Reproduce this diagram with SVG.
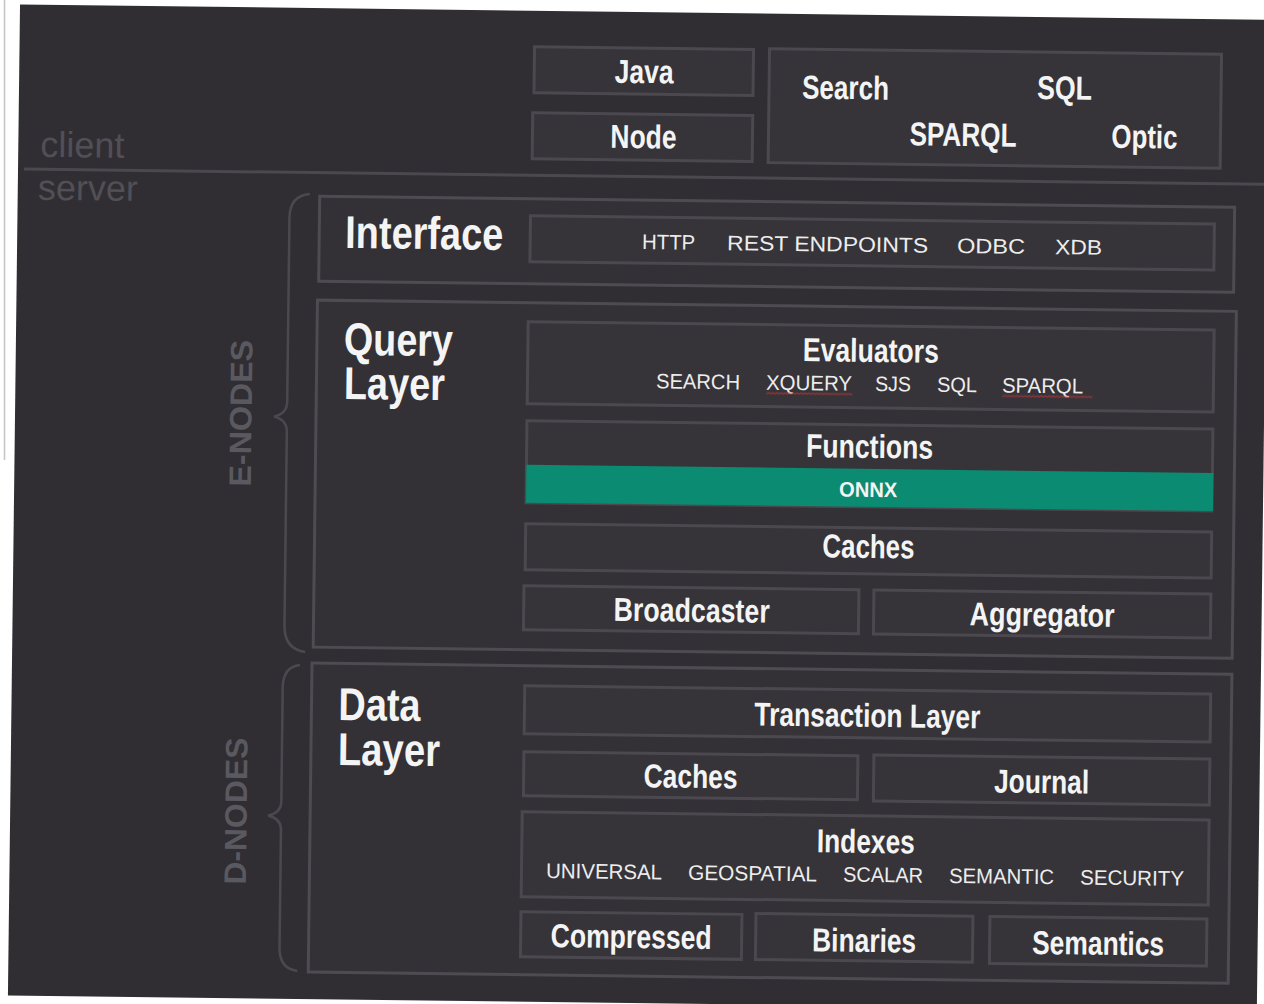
<svg xmlns="http://www.w3.org/2000/svg" width="1264" height="1004" viewBox="0 0 1264 1004">
  <defs>
    <style>
      .bg{fill:#302e33}
      .frame{fill:#333136;stroke:#4e4c52;stroke-width:3}
      .box{fill:#363439;stroke:#4b494f;stroke-width:3}
      .hd{font-family:"Liberation Sans",Arial,sans-serif;font-weight:700;font-size:46px;fill:#f4f4f4}
      .lb{font-family:"Liberation Sans",Arial,sans-serif;font-weight:700;font-size:33px;fill:#f4f4f4;text-anchor:middle}
      .st{text-anchor:start}
      .sm{font-family:"Liberation Sans",Arial,sans-serif;font-size:21px;fill:#ededed}
      .onnx{font-family:"Liberation Sans",Arial,sans-serif;font-weight:700;font-size:21px;fill:#f4f4f4;text-anchor:middle}
      .side{font-family:"Liberation Sans",Arial,sans-serif;font-size:36px;fill:#524f56}
      .tier{font-family:"Liberation Sans",Arial,sans-serif;font-weight:700;font-size:31px;fill:#5b5960;text-anchor:middle}
      .brace{fill:none;stroke:#4b494f;stroke-width:2.5}
      .rule{stroke:#4b494f;stroke-width:3}
    </style>
    <!-- red wavy spell-check underline -->
    <pattern id="squiggle" width="4" height="3" patternUnits="userSpaceOnUse">
      <path d="M0 0.6 L2 2.4 L4 0.6" fill="none" stroke="#d2343a" stroke-width="0.9"/>
    </pattern>
  </defs>

  <!-- paper -->
  <rect width="1264" height="1004" fill="#ffffff"/>
  <line x1="4.5" y1="0" x2="4.5" y2="460" stroke="#c4c4c4" stroke-width="1.5"/>

  <g transform="rotate(0.7 632 502)">
    <rect class="bg" x="14" y="12" width="1249" height="991"/>

    <!-- client / server split -->
    <g id="tiers">
      <line class="rule" x1="20" y1="176.5" x2="1280" y2="176.5"/>
      <text class="side" x="36" y="164">client</text>
      <text class="side" x="34" y="207">server</text>
    </g>

    <!-- client libraries -->
    <g id="client-java">
      <rect class="box" x="529" y="48" width="219" height="46"/>
      <text class="lb" x="639" y="83" textLength="59" lengthAdjust="spacingAndGlyphs">Java</text>
    </g>
    <g id="client-node">
      <rect class="box" x="528" y="114" width="220" height="46"/>
      <text class="lb" x="639" y="148" textLength="66" lengthAdjust="spacingAndGlyphs">Node</text>
    </g>
    <g id="client-apis">
      <rect class="box" x="764" y="47" width="452" height="114"/>
      <text class="lb st" x="797" y="96.5" textLength="87" lengthAdjust="spacingAndGlyphs">Search</text>
      <text class="lb st" x="1032" y="94" textLength="55" lengthAdjust="spacingAndGlyphs">SQL</text>
      <text class="lb st" x="905" y="142" textLength="107" lengthAdjust="spacingAndGlyphs">SPARQL</text>
      <text class="lb st" x="1107" y="142" textLength="66" lengthAdjust="spacingAndGlyphs">Optic</text>
    </g>

    <!-- Interface -->
    <g id="interface">
      <rect class="frame" x="316" y="200" width="915" height="85"/>
      <text class="hd" x="342" y="251.5" textLength="158" lengthAdjust="spacingAndGlyphs">Interface</text>
      <rect class="box" x="527" y="217" width="684" height="46"/>
      <text class="sm" x="639" y="249" textLength="53" lengthAdjust="spacingAndGlyphs">HTTP</text>
      <text class="sm" x="724" y="249" textLength="201" lengthAdjust="spacingAndGlyphs">REST ENDPOINTS</text>
      <text class="sm" x="954" y="249" textLength="68" lengthAdjust="spacingAndGlyphs">ODBC</text>
      <text class="sm" x="1052" y="249" textLength="47" lengthAdjust="spacingAndGlyphs">XDB</text>
    </g>

    <!-- Query layer -->
    <g id="query-layer">
      <rect class="frame" x="315" y="304" width="919" height="347"/>
      <text class="hd" x="342" y="358.5" textLength="109" lengthAdjust="spacingAndGlyphs">Query</text>
      <text class="hd" x="342.5" y="402.5" textLength="101" lengthAdjust="spacingAndGlyphs">Layer</text>
    </g>
    <g id="evaluators">
      <rect class="box" x="526" y="323" width="686" height="82"/>
      <text class="lb" x="869" y="359" textLength="136" lengthAdjust="spacingAndGlyphs">Evaluators</text>
      <text class="sm" x="654.6" y="388" textLength="84" lengthAdjust="spacingAndGlyphs">SEARCH</text>
      <text class="sm" x="764.6" y="388" textLength="86" lengthAdjust="spacingAndGlyphs">XQUERY</text>
      <text class="sm" x="873.6" y="388" textLength="36" lengthAdjust="spacingAndGlyphs">SJS</text>
      <text class="sm" x="935.6" y="388" textLength="40" lengthAdjust="spacingAndGlyphs">SQL</text>
      <text class="sm" x="1000.6" y="388" textLength="81" lengthAdjust="spacingAndGlyphs">SPARQL</text>
      <rect x="765" y="390" width="86" height="3" fill="url(#squiggle)"/>
      <rect x="1001" y="390" width="90" height="3" fill="url(#squiggle)"/>
    </g>
    <g id="functions">
      <rect class="box" x="526" y="422" width="686" height="82"/>
      <text class="lb" x="869" y="455" textLength="127" lengthAdjust="spacingAndGlyphs">Functions</text>
      <rect x="526" y="466" width="687" height="38" fill="#0b8b71"/>
      <text class="onnx" x="868" y="494" textLength="58" lengthAdjust="spacingAndGlyphs">ONNX</text>
    </g>
    <g id="query-caches">
      <rect class="box" x="526" y="525" width="686" height="46"/>
      <text class="lb" x="869" y="555" textLength="92" lengthAdjust="spacingAndGlyphs">Caches</text>
    </g>
    <g id="broadcaster">
      <rect class="box" x="525" y="587" width="335" height="44"/>
      <text class="lb" x="693" y="621" textLength="156" lengthAdjust="spacingAndGlyphs">Broadcaster</text>
    </g>
    <g id="aggregator">
      <rect class="box" x="875" y="587" width="337" height="44"/>
      <text class="lb" x="1043.5" y="621" textLength="145" lengthAdjust="spacingAndGlyphs">Aggregator</text>
    </g>

    <!-- Data layer -->
    <g id="data-layer">
      <rect class="frame" x="314" y="667" width="920" height="309"/>
      <text class="hd" x="341" y="723.5" textLength="82" lengthAdjust="spacingAndGlyphs">Data</text>
      <text class="hd" x="341" y="768.5" textLength="102" lengthAdjust="spacingAndGlyphs">Layer</text>
    </g>
    <g id="transaction-layer">
      <rect class="box" x="527" y="687" width="686" height="48"/>
      <text class="lb" x="870" y="724" textLength="226" lengthAdjust="spacingAndGlyphs">Transaction Layer</text>
    </g>
    <g id="data-caches">
      <rect class="box" x="527" y="753" width="334" height="44"/>
      <text class="lb" x="694" y="787" textLength="94" lengthAdjust="spacingAndGlyphs">Caches</text>
    </g>
    <g id="journal">
      <rect class="box" x="877" y="752" width="336" height="46"/>
      <text class="lb" x="1045" y="788" textLength="95" lengthAdjust="spacingAndGlyphs">Journal</text>
    </g>
    <g id="indexes">
      <rect class="box" x="526" y="813" width="687" height="85"/>
      <text class="lb" x="870" y="850" textLength="98" lengthAdjust="spacingAndGlyphs">Indexes</text>
      <text class="sm" x="550.6" y="879" textLength="116" lengthAdjust="spacingAndGlyphs">UNIVERSAL</text>
      <text class="sm" x="692.6" y="879" textLength="129" lengthAdjust="spacingAndGlyphs">GEOSPATIAL</text>
      <text class="sm" x="847.6" y="879" textLength="80" lengthAdjust="spacingAndGlyphs">SCALAR</text>
      <text class="sm" x="953.6" y="879" textLength="105" lengthAdjust="spacingAndGlyphs">SEMANTIC</text>
      <text class="sm" x="1084.6" y="879" textLength="104" lengthAdjust="spacingAndGlyphs">SECURITY</text>
    </g>
    <g id="compressed">
      <rect class="box" x="526" y="913" width="221" height="45"/>
      <text class="lb" x="636.5" y="948" textLength="161" lengthAdjust="spacingAndGlyphs">Compressed</text>
    </g>
    <g id="binaries">
      <rect class="box" x="761" y="912" width="217" height="46"/>
      <text class="lb" x="869.5" y="949" textLength="104" lengthAdjust="spacingAndGlyphs">Binaries</text>
    </g>
    <g id="semantics">
      <rect class="box" x="995" y="912" width="217" height="47"/>
      <text class="lb" x="1103.5" y="949" textLength="132" lengthAdjust="spacingAndGlyphs">Semantics</text>
    </g>

    <!-- node-role labels -->
    <g id="e-nodes">
      <text class="tier" transform="translate(250.5 418) rotate(-90)" textLength="147" lengthAdjust="spacingAndGlyphs">E-NODES</text>
    </g>
    <g id="d-nodes">
      <text class="tier" transform="translate(250.5 816) rotate(-90)" textLength="147" lengthAdjust="spacingAndGlyphs">D-NODES</text>
    </g>

    <!-- braces grouping the layers -->
    <g id="connectors">
      <path class="brace" d="M306 198 Q286 200 286 222 L286 406 Q286 418 273 421 Q286 424 286 436 L286 630 Q286 653 307 656"/>
      <path class="brace" d="M302 669 Q285 671 285 692 L285 806 Q285 817 272 820 Q285 823 285 834 L285 952 Q285 973 303 975"/>
    </g>
  </g>
</svg>
